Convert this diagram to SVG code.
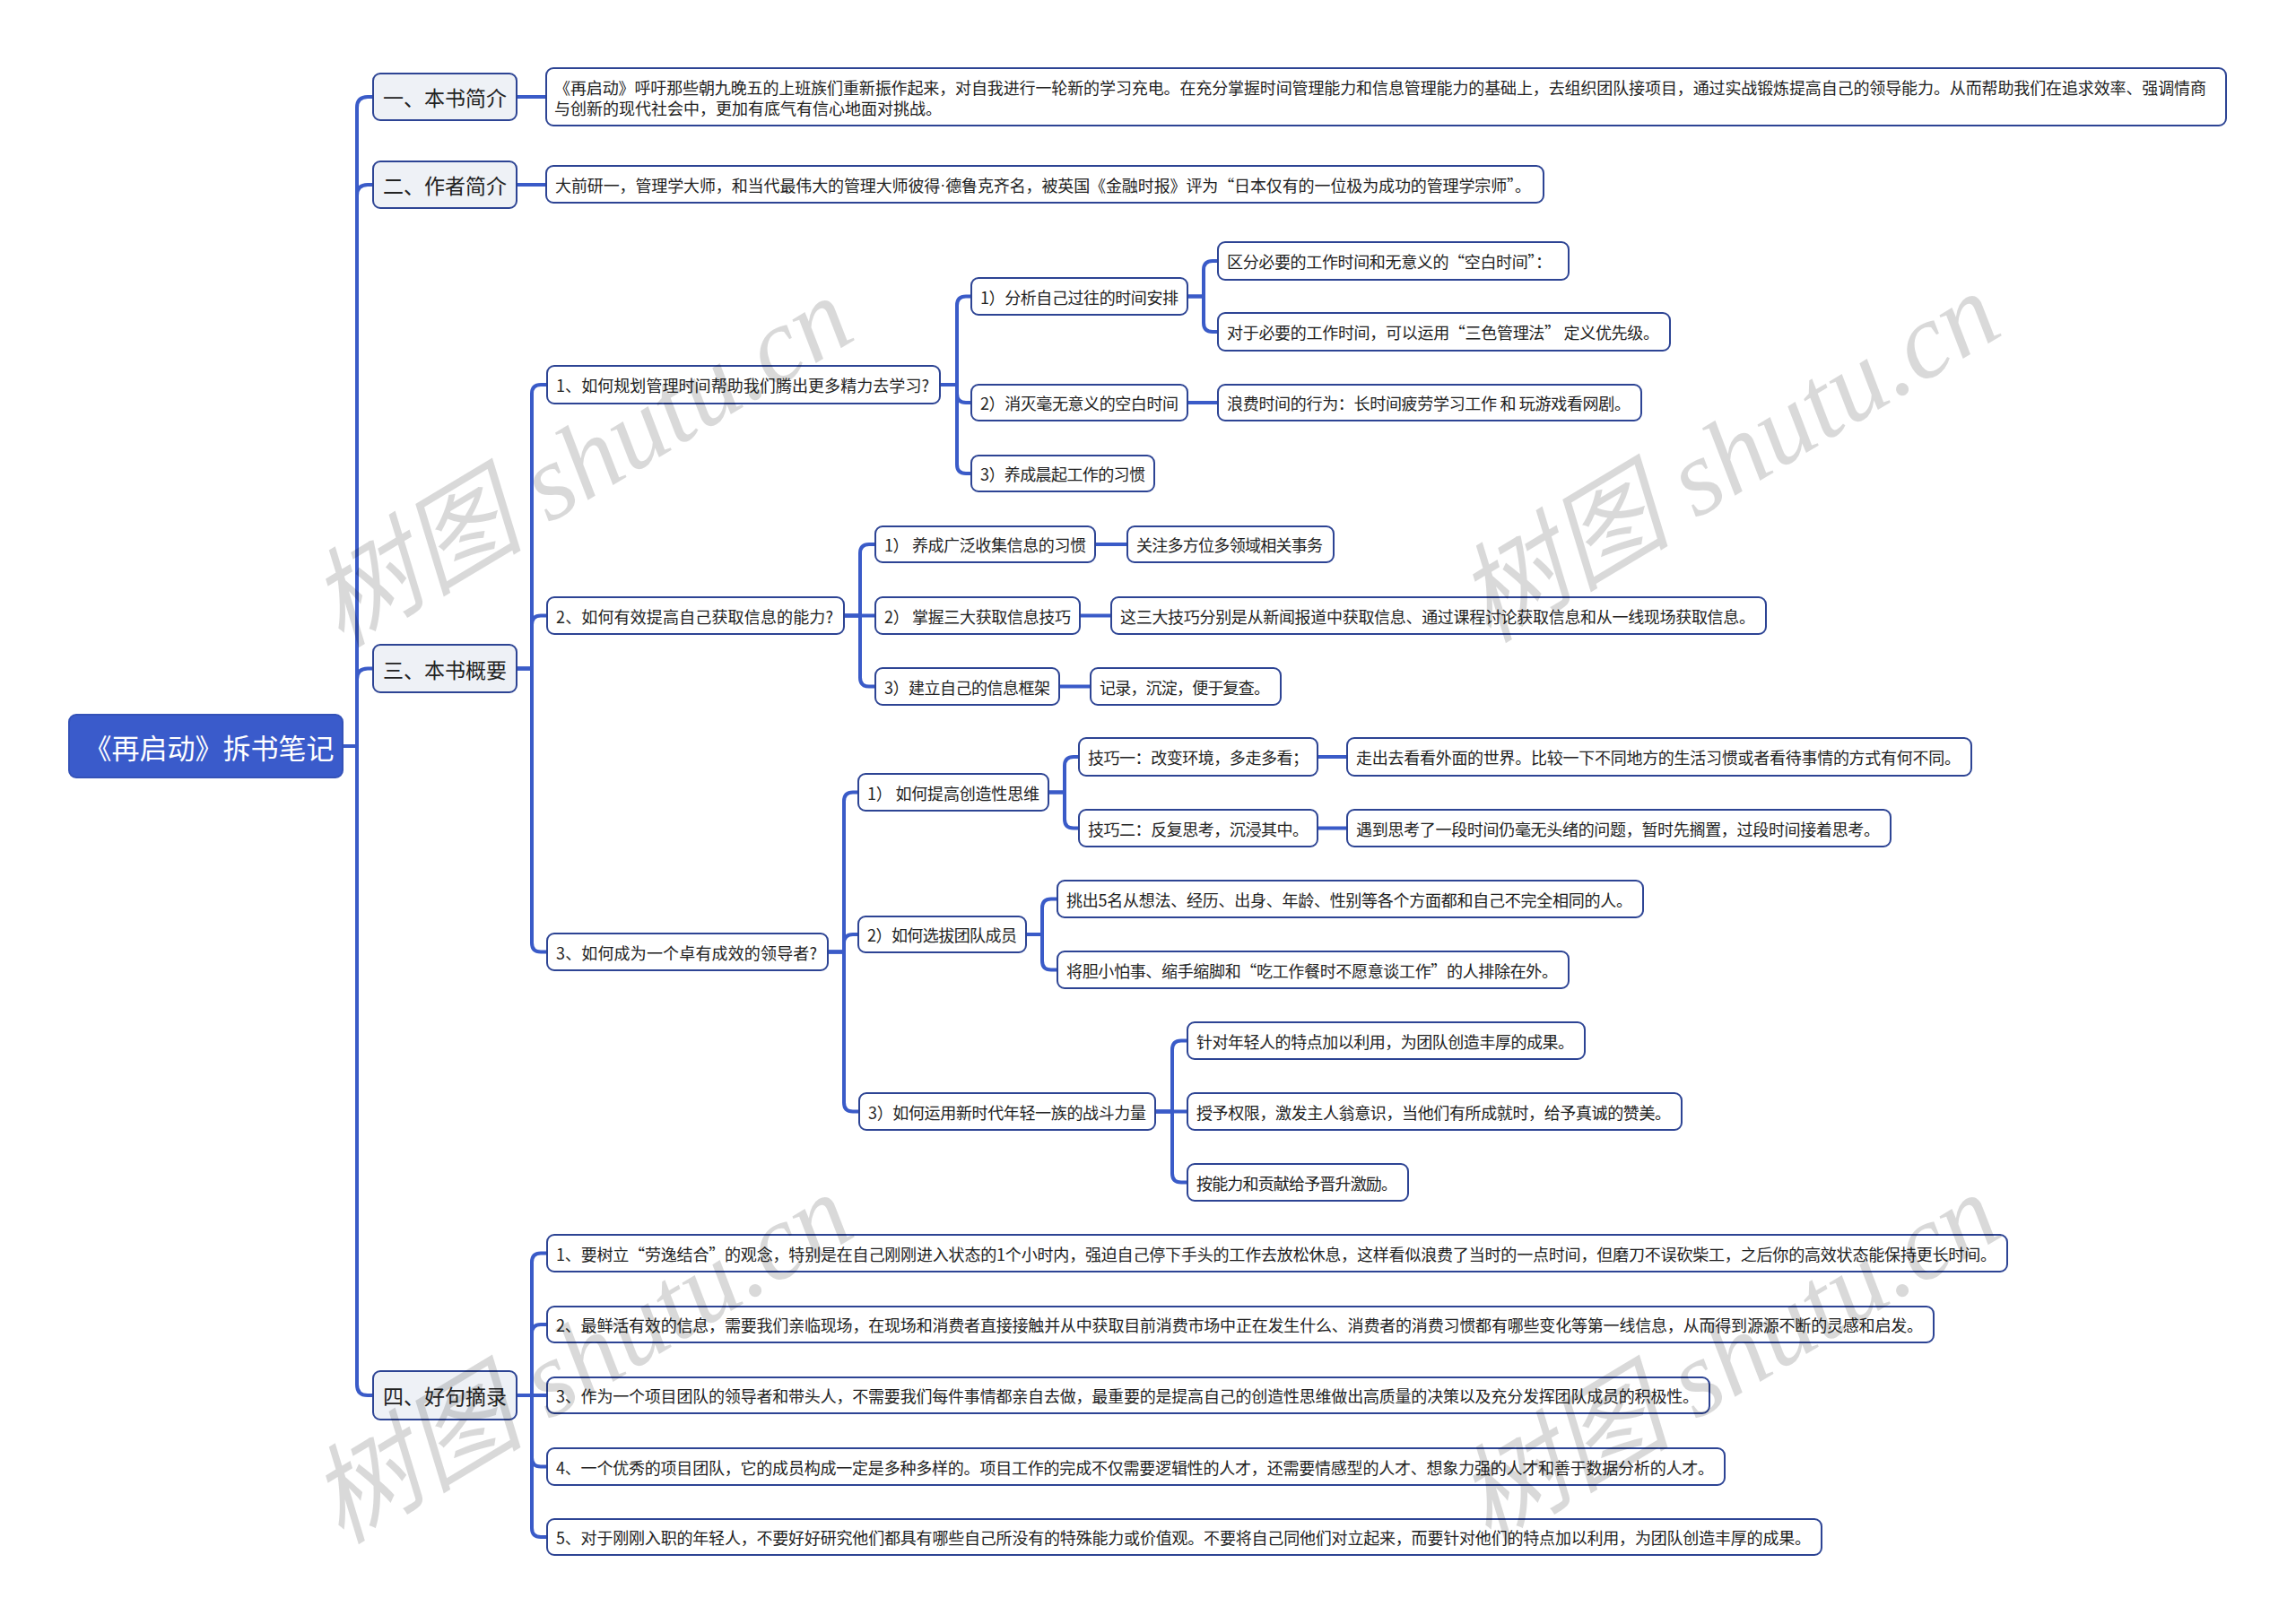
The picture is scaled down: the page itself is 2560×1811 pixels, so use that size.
<svg xmlns="http://www.w3.org/2000/svg" width="2560" height="1811" viewBox="0 0 2560 1811">
<style>
text{font-family:"Noto Sans CJK SC","Noto Sans",sans-serif;dominant-baseline:central;fill:#222}
.l{fill:none;stroke:#3A5BC8;stroke-width:4;stroke-linejoin:round;stroke-linecap:butt}
.n1 rect{fill:#EEF1F6;stroke:#2D4494;stroke-width:2}
.n2 rect{fill:#FFFFFF;stroke:#2D4494;stroke-width:2}
.n1 text{font-size:23px;text-anchor:middle}
.n2 text{font-size:18px}
.root rect{fill:#3A5BCB;stroke:#3452B8;stroke-width:2}
.root text{font-size:31px;fill:#FFFFFF;text-anchor:middle}
.lat{font-family:"Liberation Sans",sans-serif}
.wm{font-family:"Liberation Serif","Noto Sans CJK SC",serif;font-style:italic;font-size:120px;fill:#000;fill-opacity:0.15;text-anchor:middle;dominant-baseline:central}
</style>
<rect width="2560" height="1811" fill="#FFFFFF"/>
<g id="connectors">
<path class="l" d="M382 832 H398 V120 Q398 108 410 108 H416"/>
<path class="l" d="M382 832 H398 V218 Q398 206 410 206 H416"/>
<path class="l" d="M382 832 H398 V757.5 Q398 745.5 410 745.5 H416"/>
<path class="l" d="M382 832 H398 V1544 Q398 1556 410 1556 H416"/>
<path class="l" d="M576 108 H609"/>
<path class="l" d="M576 206 H609"/>
<path class="l" d="M576 745.5 H593 V439 Q593 429 603 429 H610"/>
<path class="l" d="M576 745.5 H593 V696.5 Q593 686.5 603 686.5 H610"/>
<path class="l" d="M576 745.5 H593 V1051.5 Q593 1061.5 603 1061.5 H610"/>
<path class="l" d="M1048 429 H1067 V340.5 Q1067 330.5 1077 330.5 H1083"/>
<path class="l" d="M1048 429 H1067 V439 Q1067 449 1077 449 H1083"/>
<path class="l" d="M1048 429 H1067 V518 Q1067 528 1077 528 H1083"/>
<path class="l" d="M1324 330.5 H1342 V301 Q1342 291 1352 291 H1358"/>
<path class="l" d="M1324 330.5 H1342 V360 Q1342 370 1352 370 H1358"/>
<path class="l" d="M1324 449 H1358"/>
<path class="l" d="M941 686.5 H959 V617 Q959 607 969 607 H976"/>
<path class="l" d="M941 686.5 H976"/>
<path class="l" d="M941 686.5 H959 V755.5 Q959 765.5 969 765.5 H976"/>
<path class="l" d="M1221 607 H1257"/>
<path class="l" d="M1204 686.5 H1239"/>
<path class="l" d="M1181 765.5 H1216"/>
<path class="l" d="M923 1061.5 H941 V893.5 Q941 883.5 951 883.5 H957"/>
<path class="l" d="M923 1061.5 H941 V1052 Q941 1042 951 1042 H957"/>
<path class="l" d="M923 1061.5 H941 V1229.5 Q941 1239.5 951 1239.5 H958"/>
<path class="l" d="M1169 883.5 H1187 V854 Q1187 844 1197 844 H1203"/>
<path class="l" d="M1169 883.5 H1187 V913.5 Q1187 923.5 1197 923.5 H1203"/>
<path class="l" d="M1469 844 H1502"/>
<path class="l" d="M1469 923.5 H1502"/>
<path class="l" d="M1144 1042 H1162 V1012.5 Q1162 1002.5 1172 1002.5 H1179"/>
<path class="l" d="M1144 1042 H1162 V1071.5 Q1162 1081.5 1172 1081.5 H1179"/>
<path class="l" d="M1288 1239.5 H1307 V1170.5 Q1307 1160.5 1317 1160.5 H1324"/>
<path class="l" d="M1288 1239.5 H1324"/>
<path class="l" d="M1288 1239.5 H1307 V1308.5 Q1307 1318.5 1317 1318.5 H1324"/>
<path class="l" d="M576 1556 H593 V1407.5 Q593 1397.5 603 1397.5 H610"/>
<path class="l" d="M576 1556 H593 V1487 Q593 1477 603 1477 H610"/>
<path class="l" d="M576 1556 H610"/>
<path class="l" d="M576 1556 H593 V1625.5 Q593 1635.5 603 1635.5 H610"/>
<path class="l" d="M576 1556 H593 V1704 Q593 1714 603 1714 H610"/>
</g>
<g id="root" class="root"><rect x="77" y="797" width="305" height="70" rx="8"/><text x="233" y="832">《再启动》拆书笔记</text></g>
<g id="n-intro" class="n1"><rect x="416" y="82" width="160" height="52" rx="8"/><text x="496" y="108">一、本书简介</text></g>
<g id="n-author" class="n1"><rect x="416" y="180" width="160" height="52" rx="8"/><text x="496" y="206">二、作者简介</text></g>
<g id="n-summary" class="n1"><rect x="416" y="719" width="160" height="53" rx="8"/><text x="496" y="745.5">三、本书概要</text></g>
<g id="n-quotes" class="n1"><rect x="416" y="1529" width="160" height="54" rx="8"/><text x="496" y="1556">四、好句摘录</text></g>
<g id="n-intro-text" class="n2"><rect x="609" y="76" width="1873" height="64" rx="8"/><text x="618" y="97" textLength="1842" lengthAdjust="spacing">《再启动》呼吁那些朝九晚五的上班族们重新振作起来，对自我进行一轮新的学习充电。在充分掌握时间管理能力和信息管理能力的基础上，去组织团队接项目，通过实战锻炼提高自己的领导能力。从而帮助我们在追求效率、强调情商</text><text x="618" y="120">与创新的现代社会中，更加有底气有信心地面对挑战。</text></g>
<g id="n-author-text" class="n2"><rect x="609" y="185" width="1112" height="41" rx="8"/><text x="619" y="205.5" textLength="1088" lengthAdjust="spacing">大前研一，管理学大师，和当代最伟大的管理大师彼得<tspan class="lat">·</tspan>德鲁克齐名，被英国《金融时报》评为“日本仅有的一位极为成功的管理学宗师”。</text></g>
<g id="n-c1" class="n2"><rect x="610" y="408" width="438" height="42" rx="8"/><text x="620" y="429" textLength="416" lengthAdjust="spacing">1、如何规划管理时间帮助我们腾出更多精力去学习?</text></g>
<g id="n-c1a" class="n2"><rect x="1083" y="310" width="241" height="41" rx="8"/><text x="1093" y="330.5" textLength="221" lengthAdjust="spacing">1）分析自己过往的时间安排</text></g>
<g id="n-c1a1" class="n2"><rect x="1358" y="270" width="391" height="42" rx="8"/><text x="1368" y="291" textLength="362" lengthAdjust="spacing">区分必要的工作时间和无意义的“空白时间”：</text></g>
<g id="n-c1a2" class="n2"><rect x="1358" y="349" width="504" height="42" rx="8"/><text x="1368" y="370" textLength="482" lengthAdjust="spacing">对于必要的工作时间，可以运用“三色管理法” 定义优先级。</text></g>
<g id="n-c1b" class="n2"><rect x="1083" y="429" width="241" height="40" rx="8"/><text x="1093" y="449" textLength="221" lengthAdjust="spacing">2）消灭毫无意义的空白时间</text></g>
<g id="n-c1b1" class="n2"><rect x="1358" y="429" width="472" height="40" rx="8"/><text x="1368" y="449" textLength="450" lengthAdjust="spacing">浪费时间的行为：长时间疲劳学习工作 和 玩游戏看网剧。</text></g>
<g id="n-c1c" class="n2"><rect x="1083" y="508" width="204" height="40" rx="8"/><text x="1093" y="528" textLength="184" lengthAdjust="spacing">3）养成晨起工作的习惯</text></g>
<g id="n-c2" class="n2"><rect x="610" y="666" width="331" height="41" rx="8"/><text x="620" y="686.5" textLength="309" lengthAdjust="spacing">2、如何有效提高自己获取信息的能力?</text></g>
<g id="n-c2a" class="n2"><rect x="976" y="587" width="245" height="40" rx="8"/><text x="986" y="607" textLength="225" lengthAdjust="spacing">1） 养成广泛收集信息的习惯</text></g>
<g id="n-c2a1" class="n2"><rect x="1257" y="587" width="230" height="40" rx="8"/><text x="1267" y="607" textLength="208" lengthAdjust="spacing">关注多方位多领域相关事务</text></g>
<g id="n-c2b" class="n2"><rect x="976" y="666" width="228" height="41" rx="8"/><text x="986" y="686.5" textLength="208" lengthAdjust="spacing">2） 掌握三大获取信息技巧</text></g>
<g id="n-c2b1" class="n2"><rect x="1239" y="666" width="730" height="41" rx="8"/><text x="1249" y="686.5" textLength="708" lengthAdjust="spacing">这三大技巧分别是从新闻报道中获取信息、通过课程讨论获取信息和从一线现场获取信息。</text></g>
<g id="n-c2c" class="n2"><rect x="976" y="745" width="205" height="41" rx="8"/><text x="986" y="765.5" textLength="185" lengthAdjust="spacing">3）建立自己的信息框架</text></g>
<g id="n-c2c1" class="n2"><rect x="1216" y="745" width="212" height="41" rx="8"/><text x="1226" y="765.5" textLength="190" lengthAdjust="spacing">记录，沉淀，便于复查。</text></g>
<g id="n-c3" class="n2"><rect x="610" y="1041" width="313" height="41" rx="8"/><text x="620" y="1061.5" textLength="291" lengthAdjust="spacing">3、如何成为一个卓有成效的领导者?</text></g>
<g id="n-c3a" class="n2"><rect x="957" y="863" width="212" height="41" rx="8"/><text x="967" y="883.5" textLength="192" lengthAdjust="spacing">1） 如何提高创造性思维</text></g>
<g id="n-c3a1" class="n2"><rect x="1203" y="823" width="266" height="42" rx="8"/><text x="1213" y="844" textLength="246" lengthAdjust="spacing">技巧一：改变环境，多走多看；</text></g>
<g id="n-c3a1x" class="n2"><rect x="1502" y="823" width="696" height="42" rx="8"/><text x="1512" y="844" textLength="674" lengthAdjust="spacing">走出去看看外面的世界。比较一下不同地方的生活习惯或者看待事情的方式有何不同。</text></g>
<g id="n-c3a2" class="n2"><rect x="1203" y="903" width="266" height="41" rx="8"/><text x="1213" y="923.5" textLength="246" lengthAdjust="spacing">技巧二：反复思考，沉浸其中。</text></g>
<g id="n-c3a2x" class="n2"><rect x="1502" y="903" width="606" height="41" rx="8"/><text x="1512" y="923.5" textLength="584" lengthAdjust="spacing">遇到思考了一段时间仍毫无头绪的问题，暂时先搁置，过段时间接着思考。</text></g>
<g id="n-c3b" class="n2"><rect x="957" y="1022" width="187" height="40" rx="8"/><text x="967" y="1042" textLength="167" lengthAdjust="spacing">2）如何选拔团队成员</text></g>
<g id="n-c3b1" class="n2"><rect x="1179" y="982" width="653" height="41" rx="8"/><text x="1189" y="1002.5" textLength="631" lengthAdjust="spacing">挑出5名从想法、经历、出身、年龄、性别等各个方面都和自己不完全相同的人。</text></g>
<g id="n-c3b2" class="n2"><rect x="1179" y="1061" width="570" height="41" rx="8"/><text x="1189" y="1081.5" textLength="548" lengthAdjust="spacing">将胆小怕事、缩手缩脚和“吃工作餐时不愿意谈工作”的人排除在外。</text></g>
<g id="n-c3c" class="n2"><rect x="958" y="1219" width="330" height="41" rx="8"/><text x="968" y="1239.5" textLength="310" lengthAdjust="spacing">3）如何运用新时代年轻一族的战斗力量</text></g>
<g id="n-c3c1" class="n2"><rect x="1324" y="1140" width="443" height="41" rx="8"/><text x="1334" y="1160.5" textLength="421" lengthAdjust="spacing">针对年轻人的特点加以利用，为团队创造丰厚的成果。</text></g>
<g id="n-c3c2" class="n2"><rect x="1324" y="1219" width="551" height="41" rx="8"/><text x="1334" y="1239.5" textLength="529" lengthAdjust="spacing">授予权限，激发主人翁意识，当他们有所成就时，给予真诚的赞美。</text></g>
<g id="n-c3c3" class="n2"><rect x="1324" y="1298" width="246" height="41" rx="8"/><text x="1334" y="1318.5" textLength="224" lengthAdjust="spacing">按能力和贡献给予晋升激励。</text></g>
<g id="n-d1" class="n2"><rect x="610" y="1377" width="1628" height="41" rx="8"/><text x="620" y="1397.5" textLength="1606" lengthAdjust="spacing">1、要树立“劳逸结合”的观念，特别是在自己刚刚进入状态的1个小时内，强迫自己停下手头的工作去放松休息，这样看似浪费了当时的一点时间，但磨刀不误砍柴工，之后你的高效状态能保持更长时间。</text></g>
<g id="n-d2" class="n2"><rect x="610" y="1457" width="1546" height="40" rx="8"/><text x="620" y="1477" textLength="1524" lengthAdjust="spacing">2、最鲜活有效的信息，需要我们亲临现场，在现场和消费者直接接触并从中获取目前消费市场中正在发生什么、消费者的消费习惯都有哪些变化等第一线信息，从而得到源源不断的灵感和启发。</text></g>
<g id="n-d3" class="n2"><rect x="610" y="1536" width="1296" height="40" rx="8"/><text x="620" y="1556" textLength="1274" lengthAdjust="spacing">3、作为一个项目团队的领导者和带头人，不需要我们每件事情都亲自去做，最重要的是提高自己的创造性思维做出高质量的决策以及充分发挥团队成员的积极性。</text></g>
<g id="n-d4" class="n2"><rect x="610" y="1615" width="1313" height="41" rx="8"/><text x="620" y="1635.5" textLength="1291" lengthAdjust="spacing">4、一个优秀的项目团队，它的成员构成一定是多种多样的。项目工作的完成不仅需要逻辑性的人才，还需要情感型的人才、想象力强的人才和善于数据分析的人才。</text></g>
<g id="n-d5" class="n2"><rect x="610" y="1694" width="1421" height="40" rx="8"/><text x="620" y="1714" textLength="1399" lengthAdjust="spacing">5、对于刚刚入职的年轻人，不要好好研究他们都具有哪些自己所没有的特殊能力或价值观。不要将自己同他们对立起来，而要针对他们的特点加以利用，为团队创造丰厚的成果。</text></g>
<g id="watermarks">
<text class="wm" x="648" y="515" transform="rotate(-31 648 515)">树图 shutu.cn</text>
<text class="wm" x="1927" y="510" transform="rotate(-31 1927 510)">树图 shutu.cn</text>
<text class="wm" x="648" y="1515" transform="rotate(-31 648 1515)">树图 shutu.cn</text>
<text class="wm" x="1927" y="1515" transform="rotate(-31 1927 1515)">树图 shutu.cn</text>
</g>
</svg>
